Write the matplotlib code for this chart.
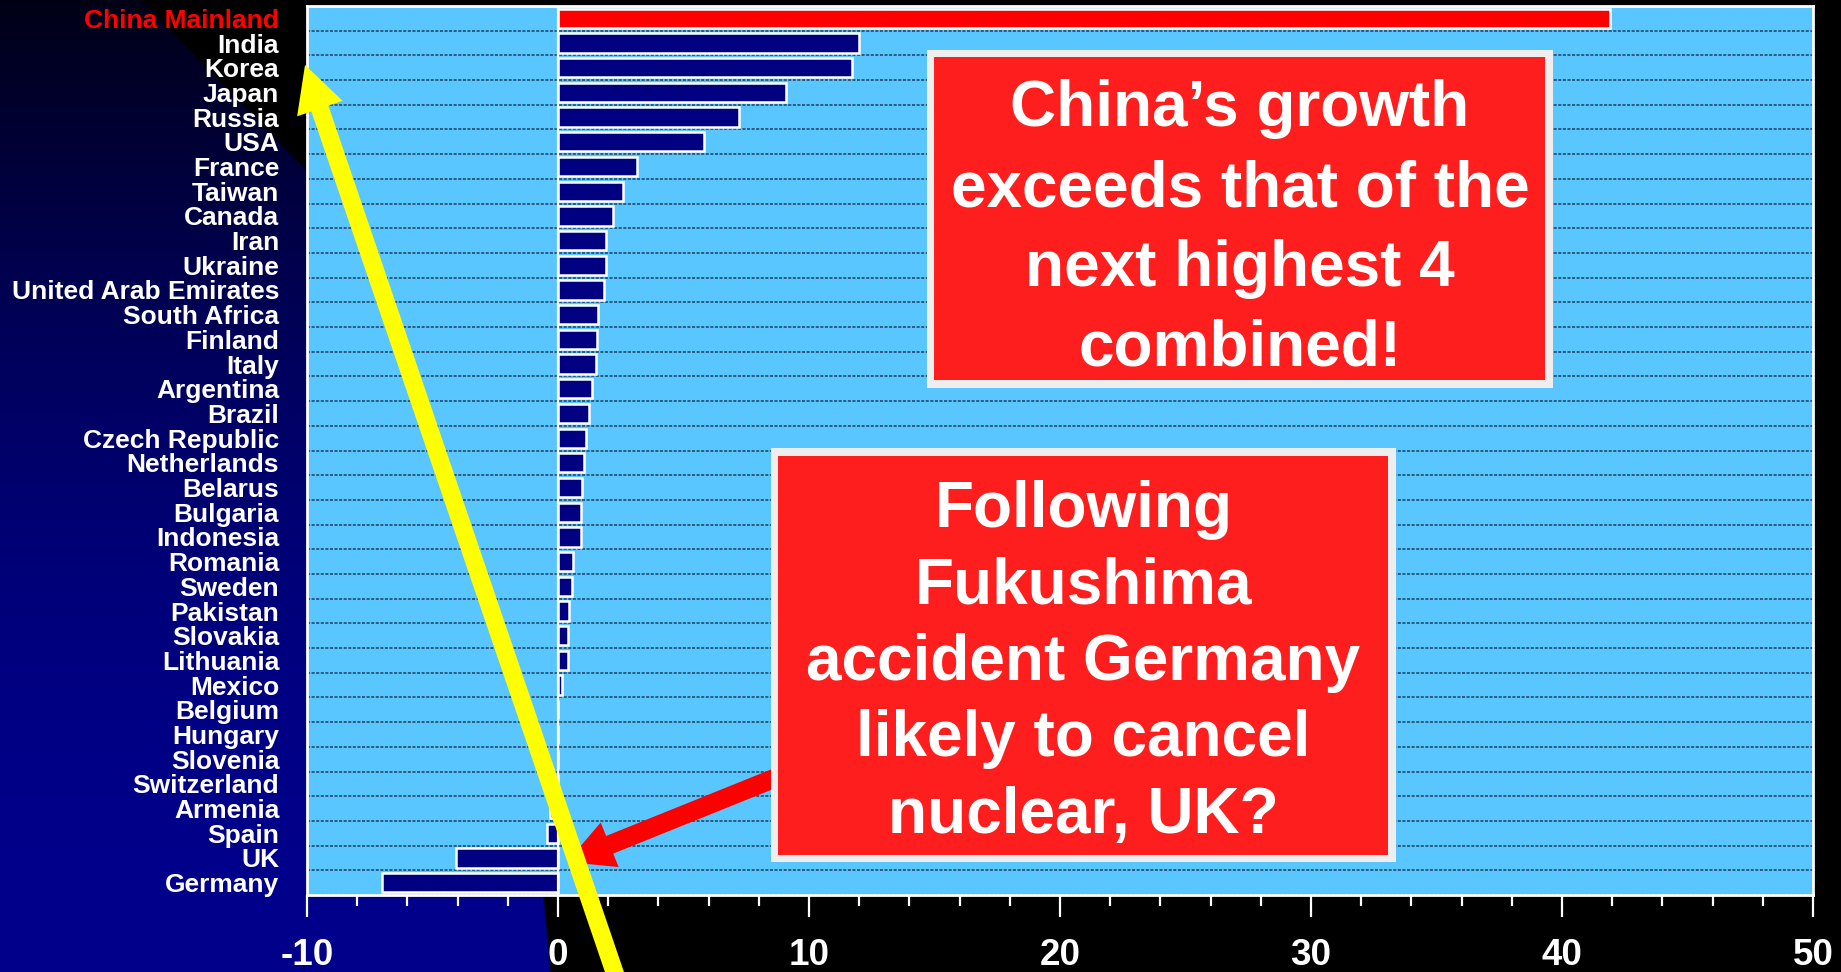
import matplotlib
matplotlib.use("Agg")

import matplotlib.pyplot as plt
import matplotlib.ticker as mticker
from matplotlib.patches import Rectangle, FancyArrow
import numpy as np

plt.rcParams["font.family"] = ["Liberation Sans", "DejaVu Sans"]

# ── Data ──
countries = [
    "China Mainland", "India", "Korea", "Japan", "Russia", "USA", "France",
    "Taiwan", "Canada", "Iran", "Ukraine", "United Arab Emirates",
    "South Africa", "Finland", "Italy", "Argentina", "Brazil",
    "Czech Republic", "Netherlands", "Belarus", "Bulgaria", "Indonesia",
    "Romania", "Sweden", "Pakistan", "Slovakia", "Lithuania", "Mexico",
    "Belgium", "Hungary", "Slovenia", "Switzerland", "Armenia", "Spain",
    "UK", "Germany",
]
growth = [
    41.9, 12.0, 11.7, 9.1, 7.2, 5.8, 3.15,
    2.6, 2.2, 1.9, 1.9, 1.85,
    1.6, 1.55, 1.5, 1.35, 1.25,
    1.1, 1.05, 0.95, 0.92, 0.92,
    0.58, 0.55, 0.45, 0.4, 0.4, 0.15,
    0.0, 0.0, 0.0, 0.0, -0.33, -0.42,
    -4.05, -7.0,
]
x_ticks = [-10, 0, 10, 20, 30, 40, 50]

box1_text = "China\u2019s growth\nexceeds that of the\nnext highest 4\ncombined!"
box2_text = "Following\nFukushima\naccident Germany\nlikely to cancel\nnuclear, UK?"

W, H = 1841, 972
fig = plt.figure(figsize=(W / 100, H / 100), dpi=100)
fig.patch.set_facecolor("black")

# ── Background: navy gradient in lower-left, black elsewhere ──
bg = fig.add_axes([0, 0, 1, 1], zorder=0)
yy, xx = np.mgrid[0:H, 0:W]
bx = np.interp(yy, [0, 172, 600, 895, 972], [140, 307, 480, 543, 550])
inside = np.clip((bx - xx) / 2.0 + 0.5, 0, 1)
bright = 0.15 + 0.85 * (1 - (1 - yy / H) ** 2)
img = np.zeros((H, W, 3))
img[..., 2] = 140 / 255 * bright * inside
bg.imshow(img, extent=[0, W, H, 0], aspect="auto", interpolation="bilinear")
bg.set_xlim(0, W)
bg.set_ylim(H, 0)
bg.axis("off")

# ── Main bar chart ──
ax = fig.add_axes([307 / W, 1 - 895 / H, 1506 / W, 889 / H], zorder=1)
ax.set_facecolor("#5AC6FF")
n = len(countries)
ypos = np.arange(n)
colors = ["#FF0000"] + ["#000080"] * (n - 1)
ax.barh(ypos, growth, height=0.78, color=colors, edgecolor="white",
        linewidth=1.8, zorder=3)
ax.axvline(0, color="white", linewidth=1.6, zorder=4)

ax.set_ylim(n - 0.5, -0.5)
ax.set_xlim(-10, 50)
ax.set_yticks(ypos)
ax.set_yticklabels(countries, fontsize=19, fontweight="bold", color="white")
ax.get_yticklabels()[0].set_color("#FF0000")
ax.yaxis.set_minor_locator(mticker.FixedLocator(np.arange(n + 1) - 0.5))
ax.tick_params(axis="y", which="both", length=0, pad=20)
ax.grid(which="minor", axis="y", color="#1E3F5C", linewidth=1.1,
        linestyle=(0, (2, 1)), zorder=1)
ax.set_axisbelow(True)

ax.set_xticks(x_ticks)
ax.set_xticklabels([str(v) for v in x_ticks], fontsize=26.5,
                   fontweight="bold", color="white")
ax.xaxis.set_minor_locator(mticker.MultipleLocator(2))
ax.tick_params(axis="x", which="major", length=16, width=1.6,
               color="white", direction="out", pad=15)
ax.tick_params(axis="x", which="minor", length=8, width=1.6,
               color="white", direction="out")
for s in ax.spines.values():
    s.set_color("white")
    s.set_linewidth(2)

# ── Overlay: annotation boxes and arrows in pixel coordinates ──
ov = fig.add_axes([0, 0, 1, 1], zorder=2)
ov.set_xlim(0, W)
ov.set_ylim(H, 0)
ov.patch.set_alpha(0)
ov.axis("off")

# red arrow to UK / Germany
ov.add_patch(FancyArrow(790, 772, 567 - 790, 862 - 772, width=19,
                        head_width=48, head_length=46,
                        length_includes_head=True, color="#FF0000",
                        linewidth=0, zorder=2))

for (x0, y0, x1, y1), txt, ty, ls in [
    ((927, 50, 1553, 388), box1_text, 229, 1.42),
    ((771, 448, 1396, 862), box2_text, 663, 1.35),
]:
    ov.add_patch(Rectangle((x0, y0), x1 - x0, y1 - y0,
                           facecolor="#EEEEEE", edgecolor="none", zorder=3))
    ov.add_patch(Rectangle((x0 + 7.5, y0 + 7.5), x1 - x0 - 15, y1 - y0 - 15,
                           facecolor="#FF1E1E", edgecolor="none", zorder=4))
    ov.text((x0 + x1) / 2, ty, txt, ha="center", va="center",
            fontsize=46, fontweight="bold", color="white",
            linespacing=ls, zorder=5)

# yellow arrow pointing at the top of the list
ov.add_patch(FancyArrow(624, 1000, 305 - 624, 65 - 1000, width=18,
                        head_width=48, head_length=46,
                        length_includes_head=True, color="#FFFF00",
                        linewidth=0, zorder=6))

fig.savefig("out.png", dpi=100, facecolor=fig.get_facecolor())
plt.close(fig)
